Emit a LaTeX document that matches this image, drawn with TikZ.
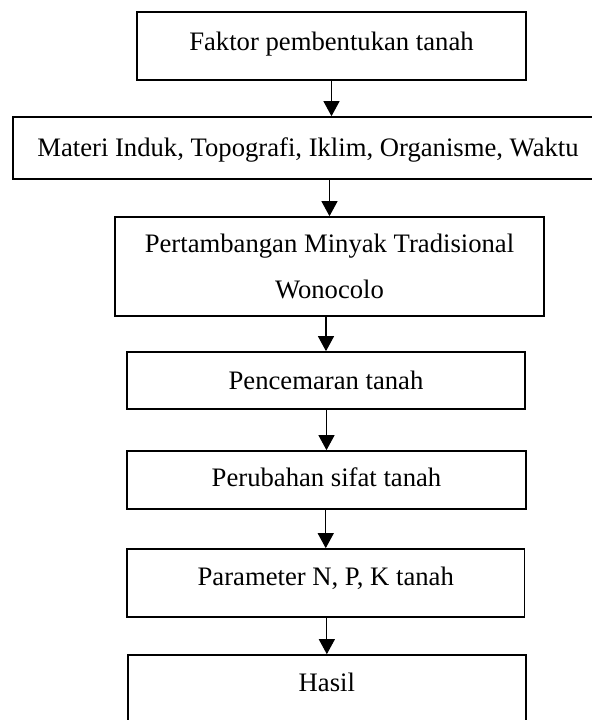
\documentclass[tikz,border=0pt]{standalone}
\usepackage{fontspec}
\setmainfont{Liberation Serif}
\usepackage{tikz}
\usetikzlibrary{arrows.meta}

\tikzset{
	kotak/.style={draw,line width=0.75pt,inner sep=0pt,anchor=base,align=center,font=\fontsize{12pt}{20.4pt}\selectfont},
	panah/.style={line width=0.5pt,-{Triangle[length=6.75pt,width=7.2pt]}}
}

\begin{document}
\begin{tikzpicture}[x=0.45pt,y=-0.45pt]
	\useasboundingbox (0,0) rectangle (592,720);
	\clip (0,0) rectangle (592,720);
	\node[kotak,minimum width=175.05pt,text height=17.1pt,text depth=13.5pt] (faktor) at (331.5,50) {Faktor pembentukan tanah};
	\node[kotak,minimum width=265.5pt,text height=17.55pt,text depth=10.35pt] (materi) at (308,156) {Materi Induk, Topografi, Iklim, Organisme, Waktu};
	\node[kotak,minimum width=193.05pt,text height=36.45pt,text depth=8.1pt] (tambang) at (329.5,298) {Pertambangan Minyak Tradisional\\Wonocolo};
	\node[kotak,minimum width=179.1pt,text height=16.65pt,text depth=9pt] (cemar) at (326,389) {Pencemaran tanah};
	\node[kotak,minimum width=179.55pt,text height=16.07pt,text depth=10.04pt] (sifat) at (326.5,486.7) {Perubahan sifat tanah};
	\node[kotak,minimum width=178.9pt,text height=16.2pt,text depth=14.4pt] (npk) at (325.75,585) {Parameter N, P, K tanah};
	\node[kotak,minimum width=179.2pt,text height=16.2pt,text depth=22pt] (hasil) at (326.85,691) {Hasil};

	\draw[panah] (faktor.south) -- (faktor.south |- materi.north);
	\draw[panah] (materi.south -| tambang.north) -- (tambang.north);
	\draw[panah] (tambang.south -| cemar.north) -- (cemar.north);
	\draw[panah] (cemar.south -| sifat.north) -- (sifat.north);
	\draw[panah] (sifat.south -| npk.north) -- (npk.north);
	\draw[panah] (npk.south -| hasil.north) -- (hasil.north);
\end{tikzpicture}
\end{document}
